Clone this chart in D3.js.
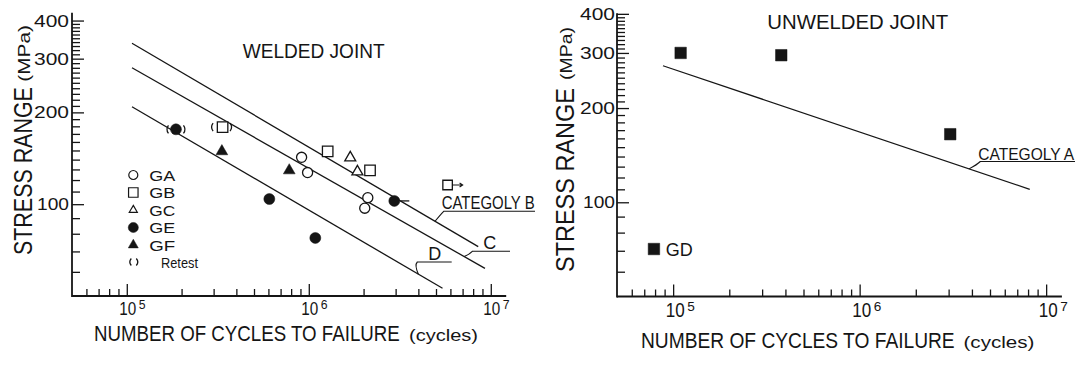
<!DOCTYPE html>
<html>
<head>
<meta charset="utf-8">
<script src="https://cdn.jsdelivr.net/npm/d3@7"></script>
<style>
  body { margin: 0; background: #fff; }
  svg { display: block; font-family: 'Liberation Sans Narrow', 'Liberation Sans', Arial, sans-serif; }
</style>
</head>
<body>
<svg id="chart" width="1082" height="367"></svg>
<script>
const majorCycles = [1e5, 1e6, 1e7];
const minorCycles = [6e4, 7e4, 8e4, 9e4,
  2e5, 3e5, 4e5, 5e5, 6e5, 7e5, 8e5, 9e5,
  2e6, 3e6, 4e6, 5e6, 6e6, 7e6, 8e6, 9e6];
const majorStress = [100, 200, 300, 400];
const minorStress = [60, 70, 80, 90,
  110, 120, 130, 140, 150, 160, 170, 180, 190,
  210, 220, 230, 240, 250, 260, 270, 280, 290,
  310, 320, 330, 340, 350, 360, 370, 380, 390];

// welded joint, [cycles, stress MPa]
const seriesGA = [[9.13e5, 142.5], [9.85e5, 127], [2.11e6, 105], [2.03e6, 97]];
const seriesGB = [[1.27e6, 149], [2.17e6, 129]];
const seriesGC = [[1.69e6, 142], [1.85e6, 127.8]];
const seriesGE = [[6.07e5, 104], [1.086e6, 77.5]];
const seriesGF = [[3.33e5, 149], [7.81e5, 129]];
const retestGE = [[1.863e5, 176]];
const retestGB = [[3.36e5, 179]];
const runoutGE = [[2.95e6, 102.5]];
const runoutGB = [[5.79e6, 115.6]];

// unwelded joint
const seriesGD = [[7.89e4, 70.9], [1.097e5, 300], [3.8e5, 295], [3.06e6, 165]];

// design curves, two end points each
const categoryB = [[1.068e5, 337], [8.53e6, 72.6]];
const categoryC = [[1.068e5, 280], [9.29e6, 61.6]];
const categoryD = [[1.068e5, 208.7], [5.43e6, 53]];
const categoryA = [[8.82e4, 273], [8.17e6, 110]];

const legendLabels = ['GA', 'GB', 'GC', 'GE', 'GF', 'Retest'];

const ink = '#151515';
const svg = d3.select('#chart');

const xL = d3.scaleLog().domain([5e4, 1.2e7]).range([72, 72 + 182 * Math.log10(240)]);
const yL = d3.scaleLog().domain([50, 400]).range([296, 296 - 305 * Math.log10(8)]);
const xR = d3.scaleLog().domain([5e4, 1.2e7]).range([617, 617 + 186.5 * Math.log10(240)]);
const yR = d3.scaleLog().domain([50, 400]).range([296.5, 296.5 - 313 * Math.log10(8)]);

const lineAt = (cat, n) => {
  const [[n0, s0], [n1, s1]] = cat;
  const k = Math.log(s1 / s0) / Math.log(n1 / n0);
  return s0 * Math.pow(n / n0, k);
};

// text squeezed horizontally to a given width, like the condensed lettering of the scan
function label(g, txt, x, y, size, len, opts = {}) {
  const t = g.append('text')
    .text(txt)
    .attr('fill', ink)
    .style('font-size', `${size}px`);
  const natural = t.node().getComputedTextLength();
  const sx = len ? len / natural : 1;
  const rot = opts.rotate ? ' rotate(-90)' : '';
  t.attr('transform', `translate(${x},${y})${rot} scale(${sx},1)`);
  return t;
}

function axes(g, x, y, yTop, labelY, labelSize, labelGap) {
  const left = x.range()[0];
  const bottom = y.range()[0];

  g.append('line')
    .attr('x1', left).attr('x2', left)
    .attr('y1', bottom + 1).attr('y2', y(yTop))
    .attr('stroke', ink).attr('stroke-width', 1.8);
  g.append('line')
    .attr('x1', left).attr('x2', x.range()[1] + 1)
    .attr('y1', bottom).attr('y2', bottom)
    .attr('stroke', ink).attr('stroke-width', 1.8);

  const yMinor = g.append('g')
    .attr('transform', `translate(${left},0)`)
    .call(d3.axisLeft(y).tickValues(minorStress).tickSize(-8).tickFormat(''));
  const yMajor = g.append('g')
    .attr('transform', `translate(${left},0)`)
    .call(d3.axisLeft(y).tickValues(majorStress).tickSize(-12).tickFormat(''));
  const xMinor = g.append('g')
    .attr('transform', `translate(0,${bottom})`)
    .call(d3.axisBottom(x).tickValues(minorCycles).tickSize(-7).tickFormat(''));
  const xMajor = g.append('g')
    .attr('transform', `translate(0,${bottom})`)
    .call(d3.axisBottom(x).tickValues(majorCycles).tickSize(-12).tickFormat(''));

  [yMinor, yMajor, xMinor, xMajor].forEach((a) => {
    a.select('.domain').remove();
    a.selectAll('line').attr('stroke', ink).attr('stroke-width', 1.3);
  });

  majorStress.forEach((d) => {
    const w = d === 100 ? 32 : 35;
    label(g, d3.format('d')(d), left - labelGap - w, y(d) + 6, 17, w);
  });

  majorCycles.forEach((d) => {
    label(g, '10', x(d) - 7.5, labelY, labelSize, labelSize - 1);
    label(g, String(Math.round(Math.log10(d))), x(d) + labelSize - 6, labelY - 6, labelSize * 0.68);
  });
}

function marker(g, data, x, y, type, size, filled) {
  return g.selectAll(null)
    .data(data)
    .enter()
    .append('path')
    .attr('transform', (d) => `translate(${x(d[0])},${y(d[1])})`)
    .attr('d', d3.symbol().type(type).size(size))
    .attr('fill', filled ? ink : '#fff')
    .attr('stroke', ink)
    .attr('stroke-width', filled ? 0.5 : 1.3);
}

function parens(g, cx, cy, dl, dr, h) {
  g.append('path')
    .attr('d', `M${cx - dl + 2},${cy - h} Q${cx - dl - 1},${cy} ${cx - dl + 2},${cy + h}` +
      ` M${cx + dr - 2},${cy - h} Q${cx + dr + 1},${cy} ${cx + dr - 2},${cy + h}`)
    .attr('fill', 'none')
    .attr('stroke', ink)
    .attr('stroke-width', 1.3);
}

function curve(g, x, y, cat) {
  g.append('path')
    .attr('d', d3.line().x((d) => x(d[0])).y((d) => y(d[1]))(cat))
    .attr('fill', 'none')
    .attr('stroke', ink)
    .attr('stroke-width', 1.3);
}

function tag(g, x, y, cat, n, txt, tx, ty, size, len, ux2) {
  label(g, txt, tx, ty, size, len);
  const px = x(n);
  const py = y(lineAt(cat, n));
  const ux = tx + (txt.length > 1 ? 2 : -11);
  g.append('path')
    .attr('d', `M${ux2},${ty + 2} H${ux} Q${ux - 3},${ty + 5} ${px},${py}`)
    .attr('fill', 'none')
    .attr('stroke', ink)
    .attr('stroke-width', 1.1);
}

// ---- welded joint
const gl = svg.append('g');
axes(gl, xL, yL, 424, 315, 18, 3);

label(gl, 'STRESS RANGE', 31.7, 255, 25, 168, { rotate: true });
label(gl, '(MPa)', 29.5, 81.7, 16, 56.7, { rotate: true });
label(gl, 'NUMBER OF CYCLES TO FAILURE', 94, 340.7, 22, 306);
label(gl, '(cycles)', 409, 340.7, 17, 69);
label(gl, 'WELDED JOINT', 242.7, 58, 20, 142);

curve(gl, xL, yL, categoryB);
curve(gl, xL, yL, categoryC);
curve(gl, xL, yL, categoryD);

tag(gl, xL, yL, categoryB, 4.94e6, 'CATEGOLY B', 441.7, 209.3, 18, 93, 535);
tag(gl, xL, yL, categoryC, 7.15e6, 'C', 483.3, 249.3, 18, 0, 510);
tag(gl, xL, yL, categoryD, 4.0e6, 'D', 428.3, 260, 18, 0, 451.7);

marker(gl, seriesGA, xL, yL, d3.symbolCircle, 80, false);
marker(gl, seriesGB, xL, yL, d3.symbolSquare, 110, false);
marker(gl, seriesGC, xL, yL, d3.symbolTriangle, 52, false);
marker(gl, seriesGE, xL, yL, d3.symbolCircle, 95, true);
marker(gl, seriesGF, xL, yL, d3.symbolTriangle, 60, true);
marker(gl, retestGE, xL, yL, d3.symbolCircle, 95, true);
marker(gl, retestGB, xL, yL, d3.symbolSquare, 110, false);
marker(gl, runoutGE, xL, yL, d3.symbolCircle, 95, true);
marker(gl, runoutGB, xL, yL, d3.symbolSquare, 90, false);

retestGE.forEach((d) => parens(gl, xL(d[0]), yL(d[1]), 9.5, 9.5, 4));
retestGB.forEach((d) => parens(gl, xL(d[0]), yL(d[1]), 11.5, 9.5, 4));

runoutGE.forEach((d) => {
  const cx = xL(d[0]);
  const cy = yL(d[1]);
  gl.append('line')
    .attr('x1', cx + 6).attr('x2', cx + 15)
    .attr('y1', cy).attr('y2', cy)
    .attr('stroke', ink).attr('stroke-width', 1.3);
});
runoutGB.forEach((d) => {
  const cx = xL(d[0]);
  const cy = yL(d[1]);
  gl.append('path')
    .attr('d', `M${cx + 5},${cy} H${cx + 15} M${cx + 12},${cy - 2} L${cx + 15},${cy} L${cx + 12},${cy + 2}`)
    .attr('fill', 'none')
    .attr('stroke', ink).attr('stroke-width', 1.2);
});

// legend
const legendSym = [
  [d3.symbolCircle, 64, false],
  [d3.symbolSquare, 90, false],
  [d3.symbolTriangle, 28, false],
  [d3.symbolCircle, 80, true],
  [d3.symbolTriangle, 43, true],
];
const rowY = [175, 192.5, 210, 227.5, 245, 262];
legendLabels.forEach((name, i) => {
  if (i < legendSym.length) {
    const [type, size, filled] = legendSym[i];
    gl.append('path')
      .attr('transform', `translate(133.3,${rowY[i]})`)
      .attr('d', d3.symbol().type(type).size(size))
      .attr('fill', filled ? ink : '#fff')
      .attr('stroke', ink)
      .attr('stroke-width', filled ? 0.5 : 1.2);
    label(gl, name, 149.3, rowY[i] + 5.5, 15.3, 26);
  } else {
    parens(gl, 133.8, rowY[i], 4.5, 4.5, 3.5);
    label(gl, name, 161, rowY[i] + 5.5, 15, 37);
  }
});

// ---- unwelded joint
const gr = svg.append('g');
axes(gr, xR, yR, 402, 316.7, 20, 2);

label(gr, 'STRESS RANGE', 574, 272, 26, 184, { rotate: true });
label(gr, '(MPa)', 571.5, 80, 16, 53, { rotate: true });
label(gr, 'NUMBER OF CYCLES TO FAILURE', 641, 348.3, 22, 314);
label(gr, '(cycles)', 963.5, 348.3, 17, 71);
label(gr, 'UNWELDED JOINT', 767.3, 29.3, 20, 181);

curve(gr, xR, yR, categoryA);
tag(gr, xR, yR, categoryA, 3.86e6, 'CATEGOLY A', 978.3, 159.5, 17, 96, 1075);

marker(gr, seriesGD, xR, yR, d3.symbolSquare, 132, true);
label(gr, 'GD', xR(seriesGD[0][0]) + 11.7, yR(seriesGD[0][1]) + 7, 18, 27);
</script>
</body>
</html>
